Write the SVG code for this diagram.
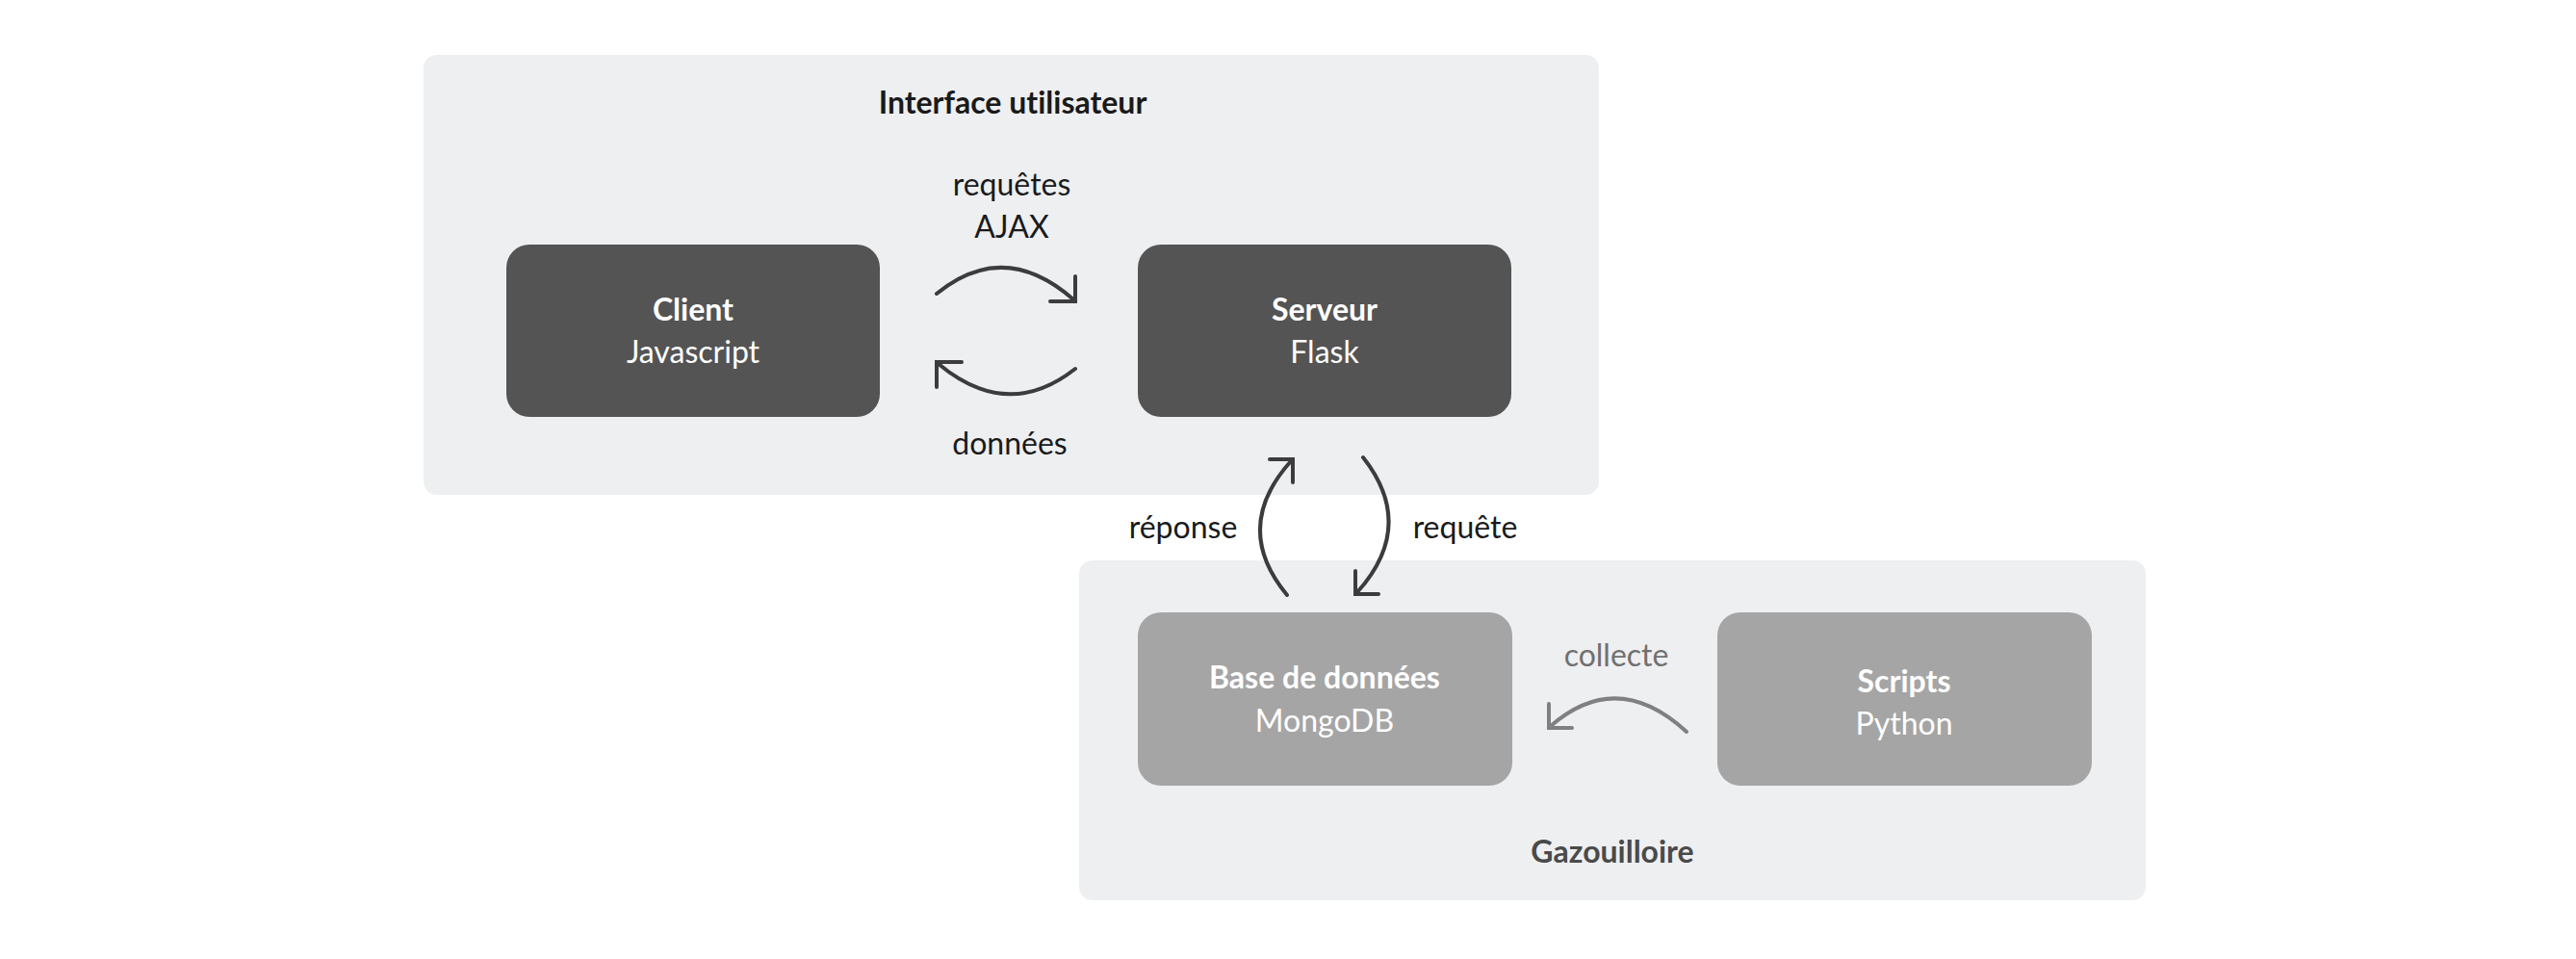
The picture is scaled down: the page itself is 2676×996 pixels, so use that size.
<svg xmlns="http://www.w3.org/2000/svg" width="2676" height="996" viewBox="0 0 2676 996">
  <style>
    .container { fill: #eeeff1; }
    .dark { fill: #545454; }
    .light { fill: #a5a5a5; }
    .t { font-family: Lato, "Liberation Sans", sans-serif; font-size: 32px; text-anchor: middle; font-variant-ligatures: none; }
    .b { font-weight: bold; }
    .white { fill: #ffffff; }
    .lbl { fill: #1a1a1a; }
    .arc { fill: none; stroke: #3c3c3e; stroke-width: 4; stroke-linecap: round; stroke-linejoin: miter; }
    .arcg { fill: none; stroke: #808080; stroke-width: 4; stroke-linecap: round; stroke-linejoin: miter; }
  </style>
  <rect width="2676" height="996" fill="#ffffff"/>

  <g id="interface-utilisateur">
    <rect class="container" x="440" y="57" width="1221" height="457" rx="14"/>
    <text class="t b lbl" x="1052" y="118" font-size="33.5">Interface utilisateur</text>
  </g>

  <g id="gazouilloire">
    <rect class="container" x="1121" y="582" width="1108" height="353" rx="14"/>
    <text class="t b" x="1675" y="896" fill="#4a4a4a">Gazouilloire</text>
  </g>

  <g id="client">
    <rect class="dark" x="526" y="254" width="388" height="179" rx="24"/>
    <text class="t b white" x="720" y="333">Client</text>
    <text class="t white" x="720" y="377">Javascript</text>
  </g>

  <g id="serveur">
    <rect class="dark" x="1182" y="254" width="388" height="179" rx="24"/>
    <text class="t b white" x="1376" y="333">Serveur</text>
    <text class="t white" x="1376" y="377">Flask</text>
  </g>

  <g id="base-de-donnees">
    <rect class="light" x="1182" y="636" width="389" height="180" rx="24"/>
    <text class="t b white" x="1376" y="715">Base de données</text>
    <text class="t white" x="1376" y="760">MongoDB</text>
  </g>

  <g id="scripts">
    <rect class="light" x="1784" y="636" width="389" height="180" rx="24"/>
    <text class="t b white" x="1978" y="719">Scripts</text>
    <text class="t white" x="1978" y="763">Python</text>
  </g>

  <g id="connectors">
    <!-- requêtes AJAX: Client -> Serveur -->
    <path class="arc" d="M973,305 Q1043,248 1115,311"/>
    <polyline class="arc" points="1117,287 1117,313 1091,313"/>
    <text class="t lbl" x="1051" y="203">requêtes</text>
    <text class="t lbl" x="1051" y="247">AJAX</text>

    <!-- données: Serveur -> Client -->
    <path class="arc" d="M1117,383 Q1047,438 975,378"/>
    <polyline class="arc" points="973,402 973,376 999,376"/>
    <text class="t lbl" x="1049" y="472">données</text>

    <!-- réponse: Base -> Serveur -->
    <path class="arc" d="M1337,618 Q1279,548 1341,479"/>
    <polyline class="arc" points="1319,477 1343,477 1343,501"/>
    <text class="t lbl" x="1229" y="559">réponse</text>

    <!-- requête: Serveur -> Base -->
    <path class="arc" d="M1416,475 Q1472,546 1410,615"/>
    <polyline class="arc" points="1408,593 1408,617 1432,617"/>
    <text class="t lbl" x="1522" y="559">requête</text>

    <!-- collecte: Scripts -> Base -->
    <path class="arcg" d="M1752,760 Q1680,694 1611,754"/>
    <polyline class="arcg" points="1609,731 1609,756 1633,756"/>
    <text class="t" x="1679" y="692" fill="#707070">collecte</text>
  </g>
</svg>
